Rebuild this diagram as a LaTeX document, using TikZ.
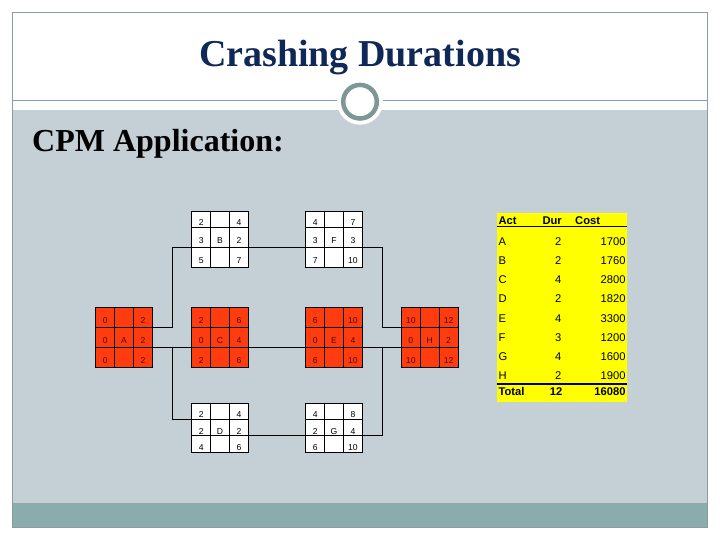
\documentclass[tikz,border=0pt]{standalone}
\usepackage{fontspec}
\setmainfont{Liberation Serif}
\newfontfamily\arialf{Liberation Sans}
\definecolor{bandgray}{RGB}{197,208,214}
\definecolor{tealband}{RGB}{138,172,172}
\definecolor{framecol}{RGB}{140,155,155}
\definecolor{ringcol}{RGB}{125,150,150}
\definecolor{cpmred}{RGB}{255,60,15}
\definecolor{cpmtext}{RGB}{70,15,0}
\definecolor{titlenavy}{RGB}{16,40,88}
\definecolor{tblyellow}{RGB}{255,255,0}
\newcommand{\cpmt}[1]{\smash{\raisebox{-6.2pt}{#1}}}
\newcommand{\cpmrow}[8]{%
  \node[cell,#5,minimum height=#4pt] (#1#21) at #3 {\cpmt{#6}};
  \node[cell,#5,minimum height=#4pt] (#1#22) at (#1#21.north east) {\cpmt{#7}};
  \node[cell,#5,minimum height=#4pt] (#1#23) at (#1#22.north east) {\cpmt{#8}};}
\begin{document}
\begin{tikzpicture}[x=1pt,y=-1pt,
  cell/.style={draw=black, line width=0.8pt, minimum width=18.9pt, inner sep=0pt,
    outer sep=0pt, anchor=north west, font=\arialf\fontsize{8.6}{9}\selectfont},
  whitecell/.style={fill=white, text=black},
  redcell/.style={fill=cpmred, text=cpmtext},
  link/.style={draw=black, line width=1.1pt},
  tt/.style={inner sep=0pt, font=\arialf\fontsize{11.2}{13}\selectfont},
  ttb/.style={tt, font=\arialf\bfseries\fontsize{11.2}{13}\selectfont}]
\useasboundingbox (0,0) rectangle (720,540);
\fill[white] (0,0) rectangle (720,540);
% slide background
\fill[bandgray] (12.3,110) rectangle (707.7,502.7);
\fill[tealband] (12.3,502.7) rectangle (707.7,527.3);
\draw[framecol, line width=0.9pt] (12.3,100) -- (707.7,100);
\draw[framecol, line width=0.9pt] (12.3,12.3) rectangle (707.7,527.3);
\fill[white] (360,101.7) circle (23pt);
\draw[ringcol, line width=4.5pt] (360,101.7) circle (16.8pt);
% titles
\node[font=\bfseries\fontsize{38}{40}\selectfont, text=titlenavy, anchor=base, inner sep=0pt]
  (title) at (360,67) {Crashing Durations};
\node[font=\bfseries\fontsize{32}{34}\selectfont, text=black, anchor=base west, inner sep=0pt]
  (sub) at (32,152) {CPM Application:};
% CPM nodes
\cpmrow{A}{1}{(95.7,307.3)}{20}{redcell}{0}{}{2}
\cpmrow{A}{2}{(A11.south west)}{20}{redcell}{0}{A}{2}
\cpmrow{A}{3}{(A21.south west)}{20}{redcell}{0}{}{2}
\cpmrow{B}{1}{(191.7,211)}{16.7}{whitecell}{2}{}{4}
\cpmrow{B}{2}{(B11.south west)}{20}{whitecell}{3}{B}{2}
\cpmrow{B}{3}{(B21.south west)}{20}{whitecell}{5}{}{7}
\cpmrow{C}{1}{(191.7,307.3)}{20}{redcell}{2}{}{6}
\cpmrow{C}{2}{(C11.south west)}{20}{redcell}{0}{C}{4}
\cpmrow{C}{3}{(C21.south west)}{20}{redcell}{2}{}{6}
\cpmrow{D}{1}{(191.7,403.3)}{16.5}{whitecell}{2}{}{4}
\cpmrow{D}{2}{(D11.south west)}{16}{whitecell}{2}{D}{2}
\cpmrow{D}{3}{(D21.south west)}{16.3}{whitecell}{4}{}{6}
\cpmrow{E}{1}{(305.7,307.3)}{20}{redcell}{6}{}{10}
\cpmrow{E}{2}{(E11.south west)}{20}{redcell}{0}{E}{4}
\cpmrow{E}{3}{(E21.south west)}{20}{redcell}{6}{}{10}
\cpmrow{F}{1}{(305.7,211)}{16.7}{whitecell}{4}{}{7}
\cpmrow{F}{2}{(F11.south west)}{20}{whitecell}{3}{F}{3}
\cpmrow{F}{3}{(F21.south west)}{20}{whitecell}{7}{}{10}
\cpmrow{G}{1}{(305.7,403.3)}{16.5}{whitecell}{4}{}{8}
\cpmrow{G}{2}{(G11.south west)}{16}{whitecell}{2}{G}{4}
\cpmrow{G}{3}{(G21.south west)}{16.3}{whitecell}{6}{}{10}
\cpmrow{H}{1}{(401.3,307.3)}{20}{redcell}{10}{}{12}
\cpmrow{H}{2}{(H11.south west)}{20}{redcell}{0}{H}{2}
\cpmrow{H}{3}{(H21.south west)}{20}{redcell}{10}{}{12}
% junction columns
\coordinate (jL) at (172.5,0);
\coordinate (jR) at (382.3,0);
% connectors
\draw[link] (A13.south east) -| (jL |- B31.north west) -- (B31.north west);
\draw[link] (A23.south east) -- (C21.south west);
\draw[link] (A23.south east) -| (jL |- D11.south west) -- (D11.south west);
\draw[link] (B23.south east) -- (F21.south west);
\draw[link] (C23.south east) -- (E21.south west);
\draw[link] (D23.south east) -- (G21.south west);
\draw[link] (F23.south east) -| (jR |- H11.south west) -- (H11.south west);
\draw[link] (E23.south east) -- (H21.south west);
\draw[link] (G23.south east) -| (jR |- H21.south west) -- (H21.south west);
% table
\fill[tblyellow] (496.7,213.3) rectangle (626.7,401.7);
\node[ttb, anchor=base west] (hact) at (498.3,224.6) {Act};
\node[ttb, anchor=base east] (hdur) at (562,224.6) {Dur};
\node[ttb, anchor=base west] (hcost) at (575,224.6) {Cost};
\draw[black, line width=1.2pt] (496.7,226.7) -- (626.7,226.7);
\foreach \act/\dur/\cost/\yy [count=\i] in
  {A/2/1700/245.6, B/2/1760/264.9, C/4/2800/283.9, D/2/1820/302.9,
   E/4/3300/322.2, F/3/1200/341.2, G/4/1600/360.2, H/2/1900/379.6}{
  \node[tt, anchor=base west] (act\i) at (498.3,\yy) {\act};
  \node[tt, anchor=base east] (dur\i) at (561.5,\yy) {\dur};
  \node[tt, anchor=base east] (cost\i) at (625.7,\yy) {\cost};
}
\draw[black, line width=1.8pt] (496.7,384.3) -- (626.7,384.3);
\node[ttb, anchor=base west] (tot) at (498.3,395.6) {Total};
\node[ttb, anchor=base east] (totdur) at (562.5,395.6) {12};
\node[ttb, anchor=base east] (totcost) at (625.7,395.6) {16080};
\end{tikzpicture}
\end{document}
